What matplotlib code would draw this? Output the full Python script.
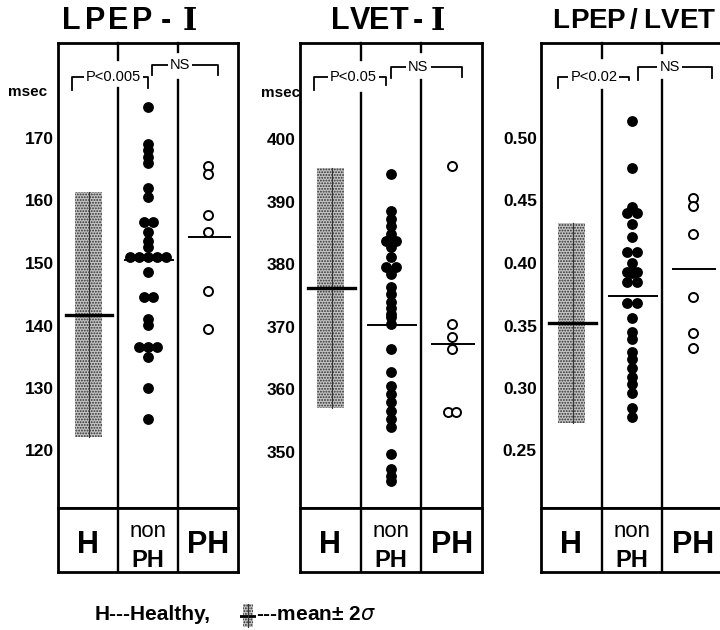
import matplotlib.pyplot as plt
import numpy as np
from matplotlib.patches import Rectangle
from matplotlib.transforms import blended_transform_factory

plt.rcParams["font.family"] = ["Liberation Sans", "DejaVu Sans"]
plt.rcParams["hatch.linewidth"] = 0.9

W, H = 720, 630

titles = ["LPEP-I", "LVET-I", "LPEP/LVET"]
units = ["msec", "msec", ""]
p_labels = ["P<0.005", "P<0.05", "P<0.02"]

yticks_lpep = [120, 130, 140, 150, 160, 170]
yticks_lvet = [350, 360, 370, 380, 390, 400]
yticks_ratio = [0.25, 0.30, 0.35, 0.40, 0.45, 0.50]
ytick_labels_ratio = ["0.25", "0.30", "0.35", "0.40", "0.45", "0.50"]

# healthy group: only mean and 2 SD are shown
healthy_mean = [141.7, 376.2, 0.352]
healthy_2sd = [19.6, 19.2, 0.080]

nonph_lpep = [175, 169, 168, 167, 166, 162, 160.5, 156.5, 156.5, 155, 153.5,
              152.5, 151, 151, 151, 151, 151, 148.5, 144.5, 144.5, 141, 140,
              136.5, 136.5, 136.5, 135, 130, 125]
ph_lpep = [165.6, 164.3, 157.7, 155.0, 145.5, 139.4]

nonph_lvet = [394.5, 388.5, 387.3, 386.2, 384.8, 383.8, 383.8, 382.7, 381.1,
              379.5, 379.5, 378.4, 376.3, 375.2, 374.0, 373.0, 372.0, 371.5,
              370.5, 366.4, 362.7, 360.6, 359.2, 357.9, 356.6, 355.2, 353.9,
              349.6, 347.2, 346.2, 345.4]
ph_lvet = [395.8, 370.4, 368.4, 366.4, 356.3, 356.3]

nonph_ratio = [0.514, 0.476, 0.445, 0.440, 0.440, 0.431, 0.421, 0.409, 0.409,
               0.400, 0.393, 0.393, 0.392, 0.385, 0.385, 0.368, 0.368, 0.356,
               0.345, 0.339, 0.329, 0.323, 0.316, 0.309, 0.303, 0.296, 0.284,
               0.277]
ph_ratio = [0.452, 0.446, 0.423, 0.373, 0.344, 0.332]

nonph_mean = [150.5, 370.3, 0.374]
ph_mean = [154.2, 367.2, 0.395]


def fx(px):
    return px / W


def fy(py):
    return 1 - py / H


def swarm_x(values, center, step=0.15):
    """Spread identical values side by side around the column centre."""
    values = np.asarray(values, dtype=float)
    xs = np.full(len(values), center)
    for v in np.unique(values):
        idx = np.where(values == v)[0]
        n = len(idx)
        xs[idx] = center + (np.arange(n) - (n - 1) / 2) * step
    return xs


def spaced_title(fig, text, x0, pitch, y, size):
    for i, ch in enumerate(text):
        fam = "DejaVu Serif" if ch == "I" else "Liberation Sans"
        fig.text(fx(x0 + i * pitch), fy(y), ch, ha="center", va="center",
                 fontsize=size, fontweight="bold", family=fam)


TOP, MID, BOT = 43, 508, 572


def frac(py):
    return (MID - py) / (MID - TOP)


def draw_panel(fig, k, left, width, ylim, yticks, yticklabels, nonph, ph,
               gaps, p_br, ns_br, title_pos):
    ax = fig.add_axes([fx(left), fy(MID), fx(width), (MID - TOP) / H])
    lab = fig.add_axes([fx(left), fy(BOT), fx(width), (BOT - MID) / H])

    ax.set_xlim(0, 3)
    ax.set_ylim(*ylim)
    ax.set_xticks([])
    ax.set_yticks(yticks)
    ax.set_yticklabels(yticklabels, fontsize=12.5, fontweight="bold")
    ax.tick_params(axis="y", length=0, pad=3)
    for s in ax.spines.values():
        s.set_linewidth(2)

    trans = blended_transform_factory(ax.transData, ax.transAxes)

    # column dividers, interrupted where the brackets sit
    for xd, (g0, g1) in zip([1, 2], gaps):
        ax.plot([xd, xd], [1, frac(g0)], color="black", lw=1.7,
                transform=trans, clip_on=False)
        ax.plot([xd, xd], [frac(g1), 0], color="black", lw=1.7,
                transform=trans, clip_on=False)

    # healthy: mean +- 2 SD band
    m, sd = healthy_mean[k], healthy_2sd[k]
    band = Rectangle((0.28, m - sd), 0.45, 2 * sd, facecolor="#c4c4c4",
                     edgecolor="#2e2e2e", hatch="......", lw=0)
    ax.add_patch(band)
    ax.plot([0.52, 0.52], [m - sd, m + sd], color="#333333", lw=0.8)
    ax.plot([0.13, 0.9], [m, m], color="black", lw=2.4)

    # non PH (filled) and PH (open)
    ax.plot(swarm_x(nonph, 1.5), nonph, "o", color="black", ms=7.8, mew=0)
    ax.plot([1.12, 1.92], [nonph_mean[k]] * 2, color="black", lw=1.4)
    ax.plot(swarm_x(ph, 2.5, step=0.13), ph, "o", mfc="white", mec="black",
            ms=6.5, mew=1.4)
    ax.plot([2.18, 2.87], [ph_mean[k]] * 2, color="black", lw=1.4)

    # significance brackets
    for (x0, x1, ytop, leg0, leg1, xt), txt in [(p_br, p_labels[k]),
                                                 (ns_br, "NS")]:
        ax.plot([x0, x0, x1, x1], [frac(leg0), frac(ytop), frac(ytop),
                                   frac(leg1)],
                color="black", lw=1.3, transform=trans, clip_on=False)
        ax.text(xt, frac(ytop), txt, transform=trans, ha="center",
                va="center", fontsize=10.5,
                bbox=dict(facecolor="white", edgecolor="none", pad=1.5))

    # group labels
    lab.set_xlim(0, 3)
    lab.set_ylim(0, 1)
    lab.set_xticks([])
    lab.set_yticks([])
    for s in lab.spines.values():
        s.set_linewidth(2)
    for xd in [1, 2]:
        lab.axvline(xd, color="black", lw=1.7)
    lab.text(0.5, 0.30, "H", ha="center", va="baseline", fontsize=22,
             fontweight="bold")
    lab.text(1.5, 0.55, "non", ha="center", va="baseline", fontsize=16)
    lab.text(1.5, 0.08, "PH", ha="center", va="baseline", fontsize=17,
             fontweight="bold")
    lab.text(2.5, 0.30, "PH", ha="center", va="baseline", fontsize=22,
             fontweight="bold")

    x0, pitch, size = title_pos
    spaced_title(fig, titles[k], x0, pitch, 21, size)
    return ax


fig = plt.figure(figsize=(W / 100, H / 100), dpi=100)

draw_panel(fig, 0, 58, 180, (110.8, 185.2), yticks_lpep, yticks_lpep,
           nonph_lpep, ph_lpep, [(60, 88), (52, 80)],
           (0.23, 1.5, 77, 90, 88, 0.93), (1.57, 2.67, 65, 75, 75, 2.03),
           (71, 23.8, 22))
draw_panel(fig, 1, 300, 182, (341.0, 415.4), yticks_lvet, yticks_lvet,
           nonph_lvet, ph_lvet, [(60, 93), (52, 80)],
           (0.23, 1.42, 77, 90, 85, 0.88), (1.5, 2.67, 67, 78, 77, 1.95),
           (340, 19.5, 22))
draw_panel(fig, 2, 541, 182, (0.204, 0.576), yticks_ratio, ytick_labels_ratio,
           nonph_ratio, ph_ratio, [(58, 90), (53, 80)],
           (0.28, 1.45, 77, 88, 80, 0.87), (1.6, 2.82, 67, 80, 78, 2.12),
           (561, 18.2, 20))

fig.text(fx(28), fy(92), units[0], ha="center", va="center", fontsize=11,
         fontweight="bold")
fig.text(fx(281), fy(93), units[1], ha="center", va="center", fontsize=11,
         fontweight="bold")

# footer legend
fig.text(fx(95), fy(620), "H---Healthy,", ha="left", va="baseline",
         fontsize=15, fontweight="bold")
leg = fig.add_axes([fx(240), fy(628), fx(16), 25 / H])
leg.set_xlim(0, 1)
leg.set_ylim(0, 1)
leg.axis("off")
leg.add_patch(Rectangle((0.2, 0.05), 0.6, 0.9, facecolor="#c4c4c4",
                        edgecolor="#2e2e2e", hatch="......", lw=0))
leg.plot([0, 1], [0.5, 0.5], color="black", lw=2)
leg.plot([0.5, 0.5], [0.05, 0.95], color="#333333", lw=0.8)
fig.text(fx(256), fy(620), "---mean\u00b1 2$\\sigma$", ha="left",
         va="baseline", fontsize=15, fontweight="bold")

fig.savefig("out.png", dpi=100)
